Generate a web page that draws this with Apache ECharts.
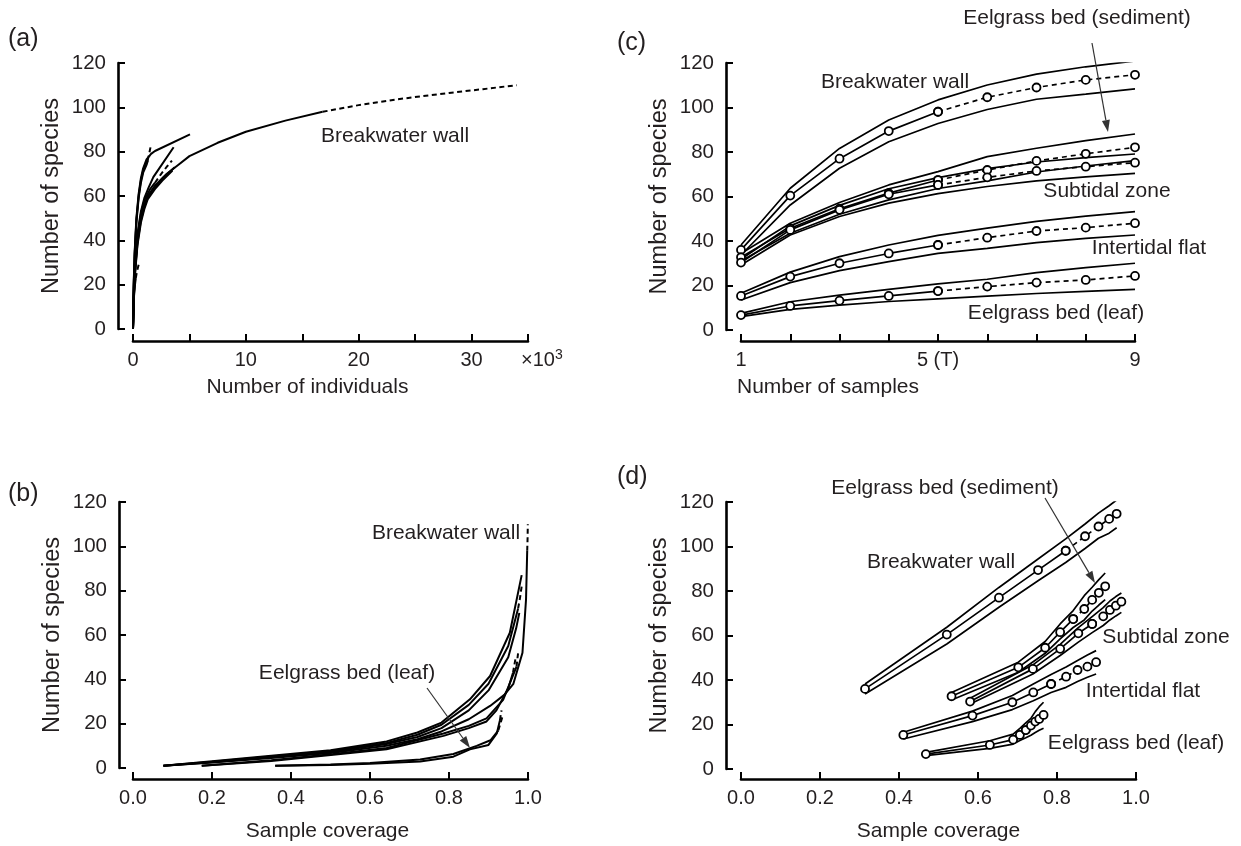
<!DOCTYPE html>
<html>
<head>
<meta charset="utf-8">
<script src="https://cdn.jsdelivr.net/npm/echarts@6/dist/echarts.min.js"></script>
<style>
  html, body { margin: 0; padding: 0; background: #fff; }
  #chart { width: 1241px; height: 846px; }
</style>
</head>
<body>
<div id="chart"></div>
<script>
// ---------------- DATA ----------------
// Panel (a): individual-based curves, x = individuals (x10^3), y = species
const aBreakwater = [[0,0],[0.05,10],[0.1,18],[0.2,28],[0.4,40],[0.7,50],[1.0,56],[1.3,60],[2,65],[3,70],[4,74],[5,78],[7.5,84],[10,89],[13.5,94],[16.8,98]];
const aBreakwaterExt = [[16.8,98],[20,101],[24,104],[28,106.5],[31,108.2],[34,110]];
const aR2 = [[0,0],[0.05,10],[0.1,17],[0.2,27],[0.4,39],[0.7,49],[1,55],[1.3,59.5],[2,64.5],[2.7,68.5],[3.7,73]];
const aR3 = [[0,0],[0.05,9],[0.1,16],[0.2,26],[0.4,38],[0.7,48],[1,54],[1.3,58.5],[2,63.5],[2.6,67],[3.5,71.5]];
const aM1 = [[0,0],[0.05,11],[0.1,19],[0.2,30],[0.4,43],[0.7,53],[1.0,59],[1.4,64],[1.8,68.5],[3.6,82]];
const aM2 = [[0,0],[0.05,10.5],[0.1,18.5],[0.2,29],[0.4,42],[0.7,52],[1.0,58],[1.5,63],[1.95,66]];
const aM2Ext = [[1.95,66],[2.5,70],[3,73.2],[3.45,76]];
const aL1 = [[0,0],[0.03,12],[0.07,22],[0.15,35],[0.3,50],[0.5,61],[0.7,68],[0.9,72.5],[1.2,76.5],[1.6,79],[1.95,80.3],[5.05,87.8]];
const aL2 = [[0,0],[0.03,11],[0.07,21],[0.15,34],[0.3,49],[0.5,60],[0.7,67],[0.9,71.5],[1.1,74.5],[1.3,76]];
const aL2Ext = [[1.3,76],[1.45,79.5],[1.55,82]];
const aL3 = [[0,0],[0.03,11],[0.07,20],[0.15,33],[0.3,48],[0.5,59],[0.7,66],[0.9,70.5],[1.2,74]];
const aL3Ext = [[1.2,74],[1.35,76.5],[1.45,78]];
const aLeaf = [[0,0],[0.02,6],[0.05,11],[0.1,16],[0.15,19],[0.2,21],[0.25,23]];
const aLeafExt = [[0.25,23],[0.35,26],[0.5,29]];
const aFlat = [[0,0],[0.02,8],[0.05,15],[0.1,23],[0.2,32],[0.3,38],[0.4,42]];
const aFlatExt = [[0.4,42],[0.6,48],[0.8,53]];

// Panel (b): coverage-based curves, x = sample coverage, y = species
const bU1 = [[0.077,1],[0.2,3],[0.35,5.5],[0.5,8],[0.642,12],[0.72,16],[0.781,20.5],[0.853,31],[0.904,41.5],[0.954,61],[0.984,87]];
const bU2 = [[0.077,1],[0.2,2.8],[0.35,5.2],[0.5,7.6],[0.642,11.3],[0.72,15],[0.781,19.5],[0.85,28.5],[0.9,38],[0.95,55],[0.975,72]];
const bU2Ext = [[0.975,72],[0.98,77],[0.984,82]];
const bU3 = [[0.077,1],[0.2,2.6],[0.35,4.9],[0.5,7.2],[0.642,10.8],[0.72,14],[0.781,18],[0.85,26],[0.9,35],[0.95,50],[0.97,63],[0.978,70]];
const bBreakwater = [[0.077,1],[0.2,2.5],[0.35,4.5],[0.5,6.8],[0.642,10],[0.72,13],[0.781,16.5],[0.85,22],[0.904,28],[0.94,33],[0.963,38],[0.986,52],[0.995,76],[0.998,98]];
const bBreakwaterExt = [[0.998,98],[0.999,104],[0.9995,110]];
const bM1 = [[0.174,1],[0.35,3.5],[0.507,6.3],[0.642,9],[0.786,15.6],[0.85,19],[0.895,22.4],[0.937,30.7],[0.971,45.7]];
const bM1Ext = [[0.971,45.7],[0.973,49],[0.975,52]];
const bM2 = [[0.174,1],[0.35,3.2],[0.507,6],[0.642,8.5],[0.786,14.5],[0.85,18],[0.895,21],[0.92,26],[0.95,36],[0.962,43]];
const bM2Ext = [[0.962,43],[0.966,47],[0.969,50]];
const bL1 = [[0.36,1],[0.5,1.4],[0.6,1.9],[0.727,2.9],[0.811,5.1],[0.853,8.4],[0.9,10.4],[0.921,15.6],[0.929,21.6]];
const bL1Ext = [[0.929,21.6],[0.931,24],[0.933,26]];
const bL2 = [[0.36,1],[0.5,1.6],[0.6,2.3],[0.727,3.8],[0.811,6.3],[0.87,10],[0.905,12.5],[0.925,17]];
const bL2Ext = [[0.925,17],[0.93,20],[0.935,23]];

// Panel (c): sample-based curves, x = number of samples
const samples = [1,2,3,4,5,6,7,8,9];
const bwMean  = [36,60.4,77,89.4,98.1,104.6,109,112.4,114.7];
const bwUpper = [38.2,63.7,81.6,94.4,103.4,110.1,115,118.3,120.9];
const bwLower = [33.7,56.2,72.7,84.6,92.8,99.1,103.7,106,108.4];
const sedMean  = [32.7,45.7,54.5,61.5,67.4,71.9,76,79.2,82.1];
const sedUpper = [34.4,48,57.3,65.2,71.2,77.9,81.7,85.1,88.1];
const sedLower = [31,43.5,52,58.5,63.6,67,71,73.7,76.1];
const subMean  = [30.3,45,54,61,65.2,68.6,71.5,73.4,75.2];
const subUpper = [31.8,46.8,56,63.5,68.5,72.5,75.5,77.5,79.1];
const subLower = [29.2,42.7,51,57,61.3,64.5,67,68.8,70.4];
const itMean  = [15.3,24,30,34.4,38.2,41.5,44.5,46,48];
const itUpper = [16.5,26,33,38.2,42.5,45.8,48.8,51.2,53.2];
const itLower = [13.5,21.3,26.7,30.7,34.4,36.7,39.3,41.2,42.7];
const leafMean  = [6.7,10.8,13.2,15.3,17.5,19.5,21.3,22.5,24.3];
const leafUpper = [7.5,12.7,15.7,18.3,20.7,22.8,25.8,28,30];
const leafLower = [6,9.3,11.2,12.8,14,15.2,16.4,17.4,18.3];

// Panel (d): sample coverage for each sample count
const bwCov   = [0.314,0.521,0.653,0.752,0.822,0.871,0.905,0.932,0.951];
const sedCov  = [0.533,0.702,0.77,0.808,0.841,0.869,0.889,0.906,0.922];
const subCov  = [0.58,0.739,0.808,0.854,0.889,0.917,0.934,0.949,0.963];
const itCov   = [0.411,0.586,0.687,0.740,0.785,0.823,0.852,0.877,0.899];
const leafCov = [0.468,0.630,0.689,0.706,0.721,0.734,0.745,0.755,0.766];

const T = 5; // observed number of samples (end of interpolation)

// tick labels
const yTickLabels = ['0','20','40','60','80','100','120'];
const aXLabels = {0:'0',10:'10',20:'20',30:'30'};
const cXLabels = {1:'1',5:'5 (T)',9:'9'};

// ---------------- STYLE HELPERS ----------------
const FONT = 'Liberation Sans, Arial, Helvetica, sans-serif';
const TXT = '#231f20';

function curve(idx, data, dashed, width) {
  return {
    type: 'line', xAxisIndex: idx, yAxisIndex: idx, data: data,
    showSymbol: false, silent: true, animation: false,
    lineStyle: { color: '#000', width: width || 2, type: dashed ? [5, 3.5] : 'solid' }
  };
}
function dotted(idx, data, dashed) {
  return {
    type: 'line', xAxisIndex: idx, yAxisIndex: idx, data: data,
    showSymbol: true, showAllSymbol: true, symbol: 'circle', symbolSize: 8,
    silent: true, animation: false, z: 5,
    itemStyle: { color: '#fff', borderColor: '#000', borderWidth: 1.8 },
    lineStyle: { color: '#000', width: 1.7, type: dashed ? [5, 4] : 'solid' }
  };
}
function zipXY(xs, ys) { return xs.map((x, i) => [x, ys[i]]); }

function xAxisCfg(idx, min, max, interval, fmt, name, offset, gap, shiftLeft) {
  return {
    gridIndex: idx, type: 'value', min: min, max: max, interval: interval, offset: offset,
    axisLine: { show: true, onZero: false, lineStyle: { color: '#000', width: 2.6 } },
    axisTick: { show: true, inside: true, length: 7, lineStyle: { color: '#000', width: 2 } },
    splitLine: { show: false },
    axisLabel: { color: TXT, fontSize: 20, fontFamily: FONT, margin: 9, formatter: fmt, showMaxLabel: true, showMinLabel: true },
    name: name, nameLocation: 'middle', nameGap: gap,
    nameTextStyle: { color: TXT, fontSize: 21, fontFamily: FONT, padding: [0, 2 * shiftLeft, 0, 0] }
  };
}
function yAxisCfg(idx, offset) {
  return {
    gridIndex: idx, type: 'value', min: 0, max: 120, interval: 20, offset: offset,
    axisLine: { show: true, onZero: false, lineStyle: { color: '#000', width: 2.6 } },
    axisTick: { show: true, inside: true, length: 7, lineStyle: { color: '#000', width: 2 } },
    splitLine: { show: false },
    axisLabel: { color: TXT, fontSize: 20.5, fontFamily: FONT, margin: 12,
      formatter: v => yTickLabels[Math.round(v / 20)] },
    name: 'Number of species', nameLocation: 'middle', nameGap: 54,
    nameTextStyle: { color: TXT, fontSize: 23.5, fontFamily: FONT }
  };
}

// ---------------- SERIES ----------------
const series = [];
// (a)
[aBreakwater, aR2, aR3, aM1, aM2, aL1, aL2, aL3, aLeaf, aFlat].forEach(d => series.push(curve(0, d, false, 2)));
[aBreakwaterExt, aM2Ext, aL2Ext, aL3Ext, aLeafExt, aFlatExt].forEach(d => series.push(curve(0, d, true, 2)));
// (b)
[bU1, bU2, bU3, bBreakwater, bM1, bM2, bL1, bL2].forEach(d => series.push(curve(1, d, false, 2)));
[bU2Ext, bBreakwaterExt, bM1Ext, bM2Ext, bL1Ext, bL2Ext].forEach(d => series.push(curve(1, d, true, 2)));
// (c) and (d)
const groups = [
  [bwMean, bwUpper, bwLower, bwCov],
  [sedMean, sedUpper, sedLower, sedCov],
  [subMean, subUpper, subLower, subCov],
  [itMean, itUpper, itLower, itCov],
  [leafMean, leafUpper, leafLower, leafCov]
];
groups.forEach(g => {
  const [mean, up, lo, cov] = g;
  // (c)
  series.push(curve(2, zipXY(samples, up), false, 1.7));
  series.push(curve(2, zipXY(samples, lo), false, 1.7));
  const cm = zipXY(samples, mean);
  series.push(dotted(2, cm.slice(0, T), false));
  series.push(dotted(2, cm.slice(T - 1), true));
  // (d)
  series.push(curve(3, zipXY(cov, up), false, 1.7));
  series.push(curve(3, zipXY(cov, lo), false, 1.7));
  const dm = zipXY(cov, mean);
  series.push(dotted(3, dm.slice(0, T), false));
  series.push(dotted(3, dm.slice(T - 1), true));
});

// ---------------- ANNOTATIONS ----------------
function label(text, x, y, align) {
  return { type: 'text', silent: true, z: 50,
    style: { text: text, x: x, y: y, textAlign: align || 'center', textVerticalAlign: 'middle',
      fill: TXT, font: '21px ' + FONT } };
}
function panel(text, x, y) {
  return { type: 'text', silent: true, z: 50,
    style: { text: text, x: x, y: y, textVerticalAlign: 'middle', fill: TXT, font: '25px ' + FONT } };
}
function arrow(x1, y1, x2, y2) {
  const dx = x2 - x1, dy = y2 - y1, L = Math.sqrt(dx * dx + dy * dy);
  const ux = dx / L, uy = dy / L, nx = -uy, ny = ux;
  const hl = 12, hw = 4;
  const bx = x2 - ux * hl, by = y2 - uy * hl;
  return [
    { type: 'line', silent: true, z: 50, shape: { x1: x1, y1: y1, x2: bx, y2: by },
      style: { stroke: '#333', lineWidth: 1.2 } },
    { type: 'polygon', silent: true, z: 50,
      shape: { points: [[x2, y2], [bx + nx * hw, by + ny * hw], [bx - nx * hw, by - ny * hw]] },
      style: { fill: '#333' } }
  ];
}
const graphic = [
  panel('(a)', 8, 39),
  panel('(b)', 8, 494),
  panel('(c)', 617, 43),
  panel('(d)', 617, 477),
  { type: 'text', silent: true, style: { text: '×10{s|3}', x: 521, y: 360, textVerticalAlign: 'middle', fill: TXT, font: '20px ' + FONT,
      rich: { s: { fontSize: 14, fontFamily: FONT, verticalAlign: 'top', fill: TXT, padding: [0, 0, 10, 0] } } } },
  label('Breakwater wall', 395, 136),
  label('Breakwater wall', 446, 533),
  label('Eelgrass bed (leaf)', 347, 673),
  label('Breakwater wall', 895, 82),
  label('Eelgrass bed (sediment)', 1077, 18),
  label('Subtidal zone', 1107, 191),
  label('Intertidal flat', 1149, 248),
  label('Eelgrass bed (leaf)', 1056, 313),
  label('Eelgrass bed (sediment)', 945, 488),
  label('Breakwater wall', 941, 562),
  label('Subtidal zone', 1166, 637),
  label('Intertidal flat', 1143, 691),
  label('Eelgrass bed (leaf)', 1136, 743)
].concat(arrow(427, 688, 470, 748), arrow(1092, 43, 1108, 132), arrow(1045, 498, 1095, 583));

const option = {
  animation: false,
  backgroundColor: '#fff',
  grid: [
    { left: 133, right: 713, top: 63, bottom: 517 },
    { left: 133, right: 713, top: 502, bottom: 78 },
    { left: 741, right: 106, top: 63, bottom: 516 },
    { left: 741, right: 105, top: 502, bottom: 77 }
  ],
  xAxis: [
    xAxisCfg(0, 0, 35, 5, v => aXLabels[v] || '', 'Number of individuals', 12, 36, 23),
    xAxisCfg(1, 0, 1, 0.2, v => v.toFixed(1), 'Sample coverage', 11, 42, 3),
    xAxisCfg(2, 1, 9, 1, v => cXLabels[v] || '', 'Number of samples', 11, 36, 110),
    xAxisCfg(3, 0, 1, 0.2, v => v.toFixed(1), 'Sample coverage', 10, 42, 0)
  ],
  yAxis: [ yAxisCfg(0, 15), yAxisCfg(1, 14), yAxisCfg(2, 15), yAxisCfg(3, 15) ],
  series: series,
  graphic: graphic
};

const chart = echarts.init(document.getElementById('chart'), null, { renderer: 'canvas' });
chart.setOption(option);
</script>
</body>
</html>
